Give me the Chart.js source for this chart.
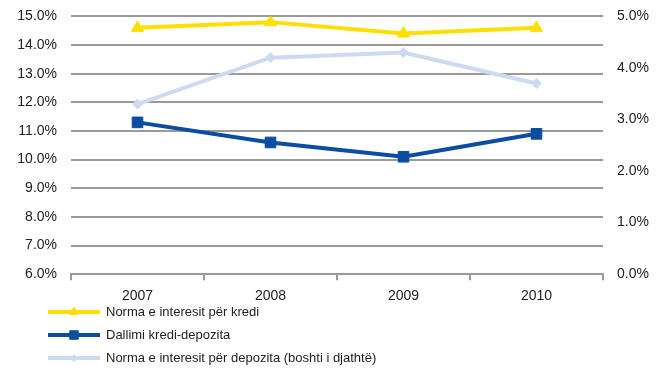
<!DOCTYPE html>
<html>
<head>
<meta charset="utf-8">
<script src="https://cdn.jsdelivr.net/npm/chart.js@4/dist/chart.umd.min.js"></script>
<style>
  html, body { margin: 0; padding: 0; background: #fff; }
  #wrap { width: 659px; height: 369px; position: relative; overflow: hidden; }
  #c { position: absolute; left: 0; top: -6px; }
</style>
</head>
<body>
<div id="wrap"><canvas id="c" width="659" height="375"></canvas></div>
<script>
const years = ['2007', '2008', '2009', '2010'];
const loanRate = [14.6, 14.8, 14.4, 14.6];        // left axis
const spread = [11.3, 10.6, 10.1, 10.9];          // left axis
const depositRate = [3.3, 4.2, 4.3, 3.7];         // right axis
const seriesNames = [
  'Norma e interesit për kredi',
  'Dallimi kredi-depozita',
  'Norma e interesit për depozita (boshti i djathtë)'
];

const FONT = 'Liberation Sans, Arial, sans-serif';
const TEXT = '#222';
const GRID = '#9a9a9a';
const pct = v => Number(v).toFixed(1) + '%';

// Vertical legend at the bottom-left, drawn from the dataset styles
const stackedLegend = {
  id: 'stackedLegend',
  afterDraw(chart) {
    const ctx = chart.ctx;
    const rows = [318, 341, 364];
    chart.data.datasets.forEach((ds, i) => {
      const y = rows[i];
      ctx.save();
      ctx.strokeStyle = ds.borderColor;
      ctx.lineWidth = 4;
      ctx.beginPath();
      ctx.moveTo(48, y);
      ctx.lineTo(100, y);
      ctx.stroke();
      ctx.fillStyle = ds.borderColor;
      ctx.lineWidth = 1;
      Chart.helpers.drawPoint(ctx, {
        pointStyle: ds.pointStyle,
        radius: ds.legendRadius,
        borderWidth: 1,
        rotation: 0
      }, 74, y);
      ctx.fillStyle = TEXT;
      ctx.font = '13px ' + FONT;
      ctx.textBaseline = 'middle';
      ctx.textAlign = 'left';
      ctx.fillText(seriesNames[i], 106, y);
      ctx.restore();
    });
  }
};

new Chart(document.getElementById('c'), {
  type: 'line',
  data: {
    labels: years,
    datasets: [
      {
        label: seriesNames[0],
        data: loanRate,
        yAxisID: 'y',
        borderColor: '#FFDF00',
        backgroundColor: '#FFDF00',
        borderWidth: 4,
        pointStyle: 'triangle',
        pointRadius: 7,
        legendRadius: 5,
        pointBorderWidth: 1,
        tension: 0,
        order: 1
      },
      {
        label: seriesNames[1],
        data: spread,
        yAxisID: 'y',
        borderColor: '#0B4DA2',
        backgroundColor: '#0B4DA2',
        borderWidth: 4,
        pointStyle: 'rect',
        pointRadius: 7.5,
        legendRadius: 6,
        pointBorderWidth: 1,
        tension: 0,
        order: 2
      },
      {
        label: seriesNames[2],
        data: depositRate,
        yAxisID: 'y1',
        borderColor: '#CCDAF2',
        backgroundColor: '#CCDAF2',
        borderWidth: 4,
        pointStyle: 'rectRot',
        pointRadius: 5,
        legendRadius: 3.5,
        pointBorderWidth: 1,
        tension: 0,
        order: 3
      }
    ]
  },
  options: {
    responsive: false,
    animation: false,
    layout: { padding: { top: 2, bottom: 56, left: 0, right: 0 } },
    plugins: {
      legend: { display: false },
      tooltip: { enabled: false }
    },
    scales: {
      x: {
        offset: true,
        grid: { offset: true, drawOnChartArea: false, drawTicks: true, tickLength: 6, color: GRID, lineWidth: 2 },
        border: { display: true, color: GRID, width: 2 },
        ticks: { color: TEXT, font: { family: FONT, size: 14 }, padding: 8 }
      },
      y: {
        position: 'left',
        min: 6, max: 15,
        afterFit(s) { s.width = 71; },
        grid: { color: GRID, lineWidth: 2, drawTicks: false },
        border: { display: false },
        ticks: { stepSize: 1, callback: pct, color: TEXT, font: { family: FONT, size: 14 }, padding: 14 }
      },
      y1: {
        position: 'right',
        min: 0, max: 5,
        afterFit(s) { s.width = 56; },
        grid: { display: false, drawTicks: false },
        border: { display: false },
        ticks: { stepSize: 1, callback: pct, color: TEXT, font: { family: FONT, size: 14 }, padding: 14 }
      }
    }
  },
  plugins: [stackedLegend]
});
</script>
</body>
</html>
